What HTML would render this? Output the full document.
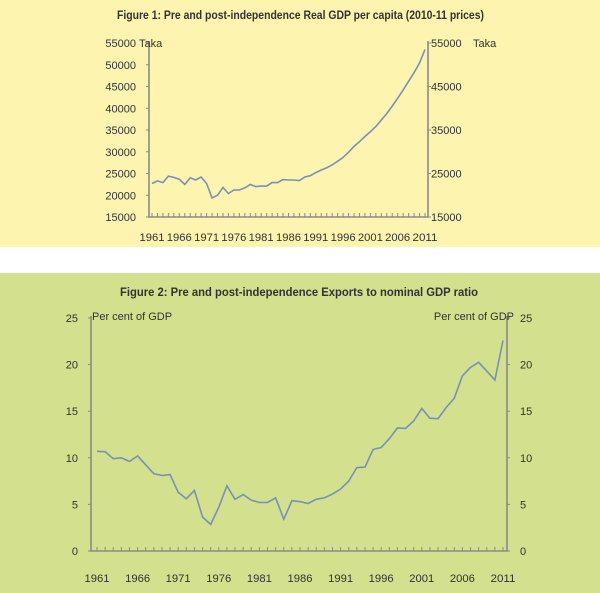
<!DOCTYPE html>
<html><head><meta charset="utf-8"><style>
body{margin:0;width:600px;height:593px;overflow:hidden;background:#fff;font-family:"Liberation Sans",sans-serif}
svg{display:block}
text{font-family:"Liberation Sans",sans-serif;font-size:11px;fill:#333}
.t{font-family:"Liberation Sans Narrow","Liberation Sans",sans-serif;font-weight:bold;font-size:12px;fill:#333}
</style></head><body>
<svg width="600" height="593">
<rect x="0" y="0" width="600" height="247" fill="#fdf4b0"/>
<rect x="0" y="273" width="600" height="320" fill="#d3e08d"/>
<text class="t" x="117" y="19" textLength="367" lengthAdjust="spacingAndGlyphs">Figure 1: Pre and post-independence Real GDP per capita (2010-11 prices)</text>
<text class="t" x="120" y="296" textLength="358" lengthAdjust="spacingAndGlyphs">Figure 2: Pre and post-independence Exports to nominal GDP ratio</text>
<g id="c1"></g><g id="c2"></g>
</svg>
<script>
const years = [];
for (let y = 1961; y <= 2011; y++) years.push(y);
const gdpValues = [22700,23300,22900,24400,24100,23700,22500,24000,23500,24200,22700,19400,20000,21800,20400,21200,21200,21700,22500,22000,22100,22100,22900,22900,23600,23500,23500,23400,24200,24500,25200,25800,26300,27000,27800,28700,29900,31200,32300,33500,34600,35800,37300,38800,40500,42300,44200,46200,48200,50400,53500];
const gdpLeftTicks = [15000,20000,25000,30000,35000,40000,45000,50000,55000];
const gdpRightTicks = [15000,25000,35000,45000,55000];
const exportValues = [10.7,10.65,9.9,10.0,9.6,10.2,9.25,8.3,8.1,8.2,6.3,5.6,6.5,3.65,2.85,4.7,7.0,5.55,6.05,5.45,5.2,5.2,5.7,3.4,5.4,5.3,5.1,5.55,5.7,6.1,6.65,7.5,8.95,9.0,10.9,11.1,12.05,13.2,13.15,13.95,15.3,14.25,14.2,15.4,16.4,18.8,19.7,20.25,19.3,18.35,22.6];
const exportTicks = [0,5,10,15,20,25];
const yearLabels = [1961,1966,1971,1976,1981,1986,1991,1996,2001,2006,2011];
const NS = "http://www.w3.org/2000/svg";
function mk(p, tag, attrs){const e=document.createElementNS(NS,tag);for(const k in attrs)e.setAttribute(k,attrs[k]);p.appendChild(e);return e;}
function chart(g, cfg){
  const sx = y => cfg.x0 + (y-1961)/(2011-1961)*(cfg.x1-cfg.x0);
  const sy = v => cfg.yb + (v-cfg.vmin)/(cfg.vmax-cfg.vmin)*(cfg.yt-cfg.yb);
  const ax = mk(g,'path',{d:`M${cfg.L},${cfg.yt-2}V${cfg.yb}H${cfg.R}V${cfg.yt-2}`,fill:'none',stroke:'#8a8a8a','stroke-width':1.6});
  
  
  years.forEach(y=>{const t=mk(g,'line',{x1:sx(y),x2:sx(y),y1:cfg.yb,y2:cfg.yb-4,stroke:'#8a8a8a','stroke-width':1});
    
    });
  cfg.lt.forEach(v=>{
    const t=mk(g,'line',{x1:cfg.L-3,x2:cfg.L,y1:sy(v),y2:sy(v),stroke:'#8a8a8a'});
    
    
    const l=mk(g,'text',{x:cfg.L-cfg.lo,y:sy(v)+4,'text-anchor':'end'});l.textContent=v;
    if(cfg.lw) l.setAttribute('textLength', cfg.lw);
    
    });
  cfg.rt.forEach(v=>{
    const t=mk(g,'line',{x1:cfg.R,x2:cfg.R+3,y1:sy(v),y2:sy(v),stroke:'#8a8a8a'});
    
    
    const l=mk(g,'text',{x:cfg.R+cfg.ro,y:sy(v)+4});l.textContent=v;
    if(cfg.lw) l.setAttribute('textLength', cfg.lw);
    
    });
  yearLabels.forEach(y=>{const l=mk(g,'text',{x:sx(y),y:cfg.ly,'text-anchor':'middle'});l.textContent=y;
    l.setAttribute('textLength', cfg.yw);
    l.setAttribute('lengthAdjust','spacingAndGlyphs');
    
    });
  const d = cfg.vals.map((v,i)=>(i?'L':'M')+sx(years[i]).toFixed(1)+','+sy(v).toFixed(1)).join('');
  const p=mk(g,'path',{d:d,fill:'none',stroke:'#7a90b8','stroke-width':1.6});
  
  
  cfg.units.forEach(u=>{const l=mk(g,'text',{x:u[0],y:u[1],'text-anchor':u[2]});l.textContent=u[3];
    
    });
}
chart(document.getElementById('c1'),{name:'gdp-per-capita',x0:152,x1:425,L:149,R:428,yt:43,yb:217,vmin:15000,vmax:55000,
  lt:gdpLeftTicks,rt:gdpRightTicks,lo:13,ro:3,ly:241,yw:25,lw:0,vals:gdpValues,
  units:[[139,47,'start','Taka'],[473,47,'start','Taka']]});
chart(document.getElementById('c2'),{name:'exports-ratio',x0:97,x1:503,L:91,R:507,yt:318,yb:551,vmin:0,vmax:25,
  lt:exportTicks,rt:exportTicks,lo:13,ro:13,ly:582,yw:25,lw:0,vals:exportValues,
  units:[[92,320,'start','Per cent of GDP'],[514,320,'end','Per cent of GDP']]});
</script>
</body></html>
